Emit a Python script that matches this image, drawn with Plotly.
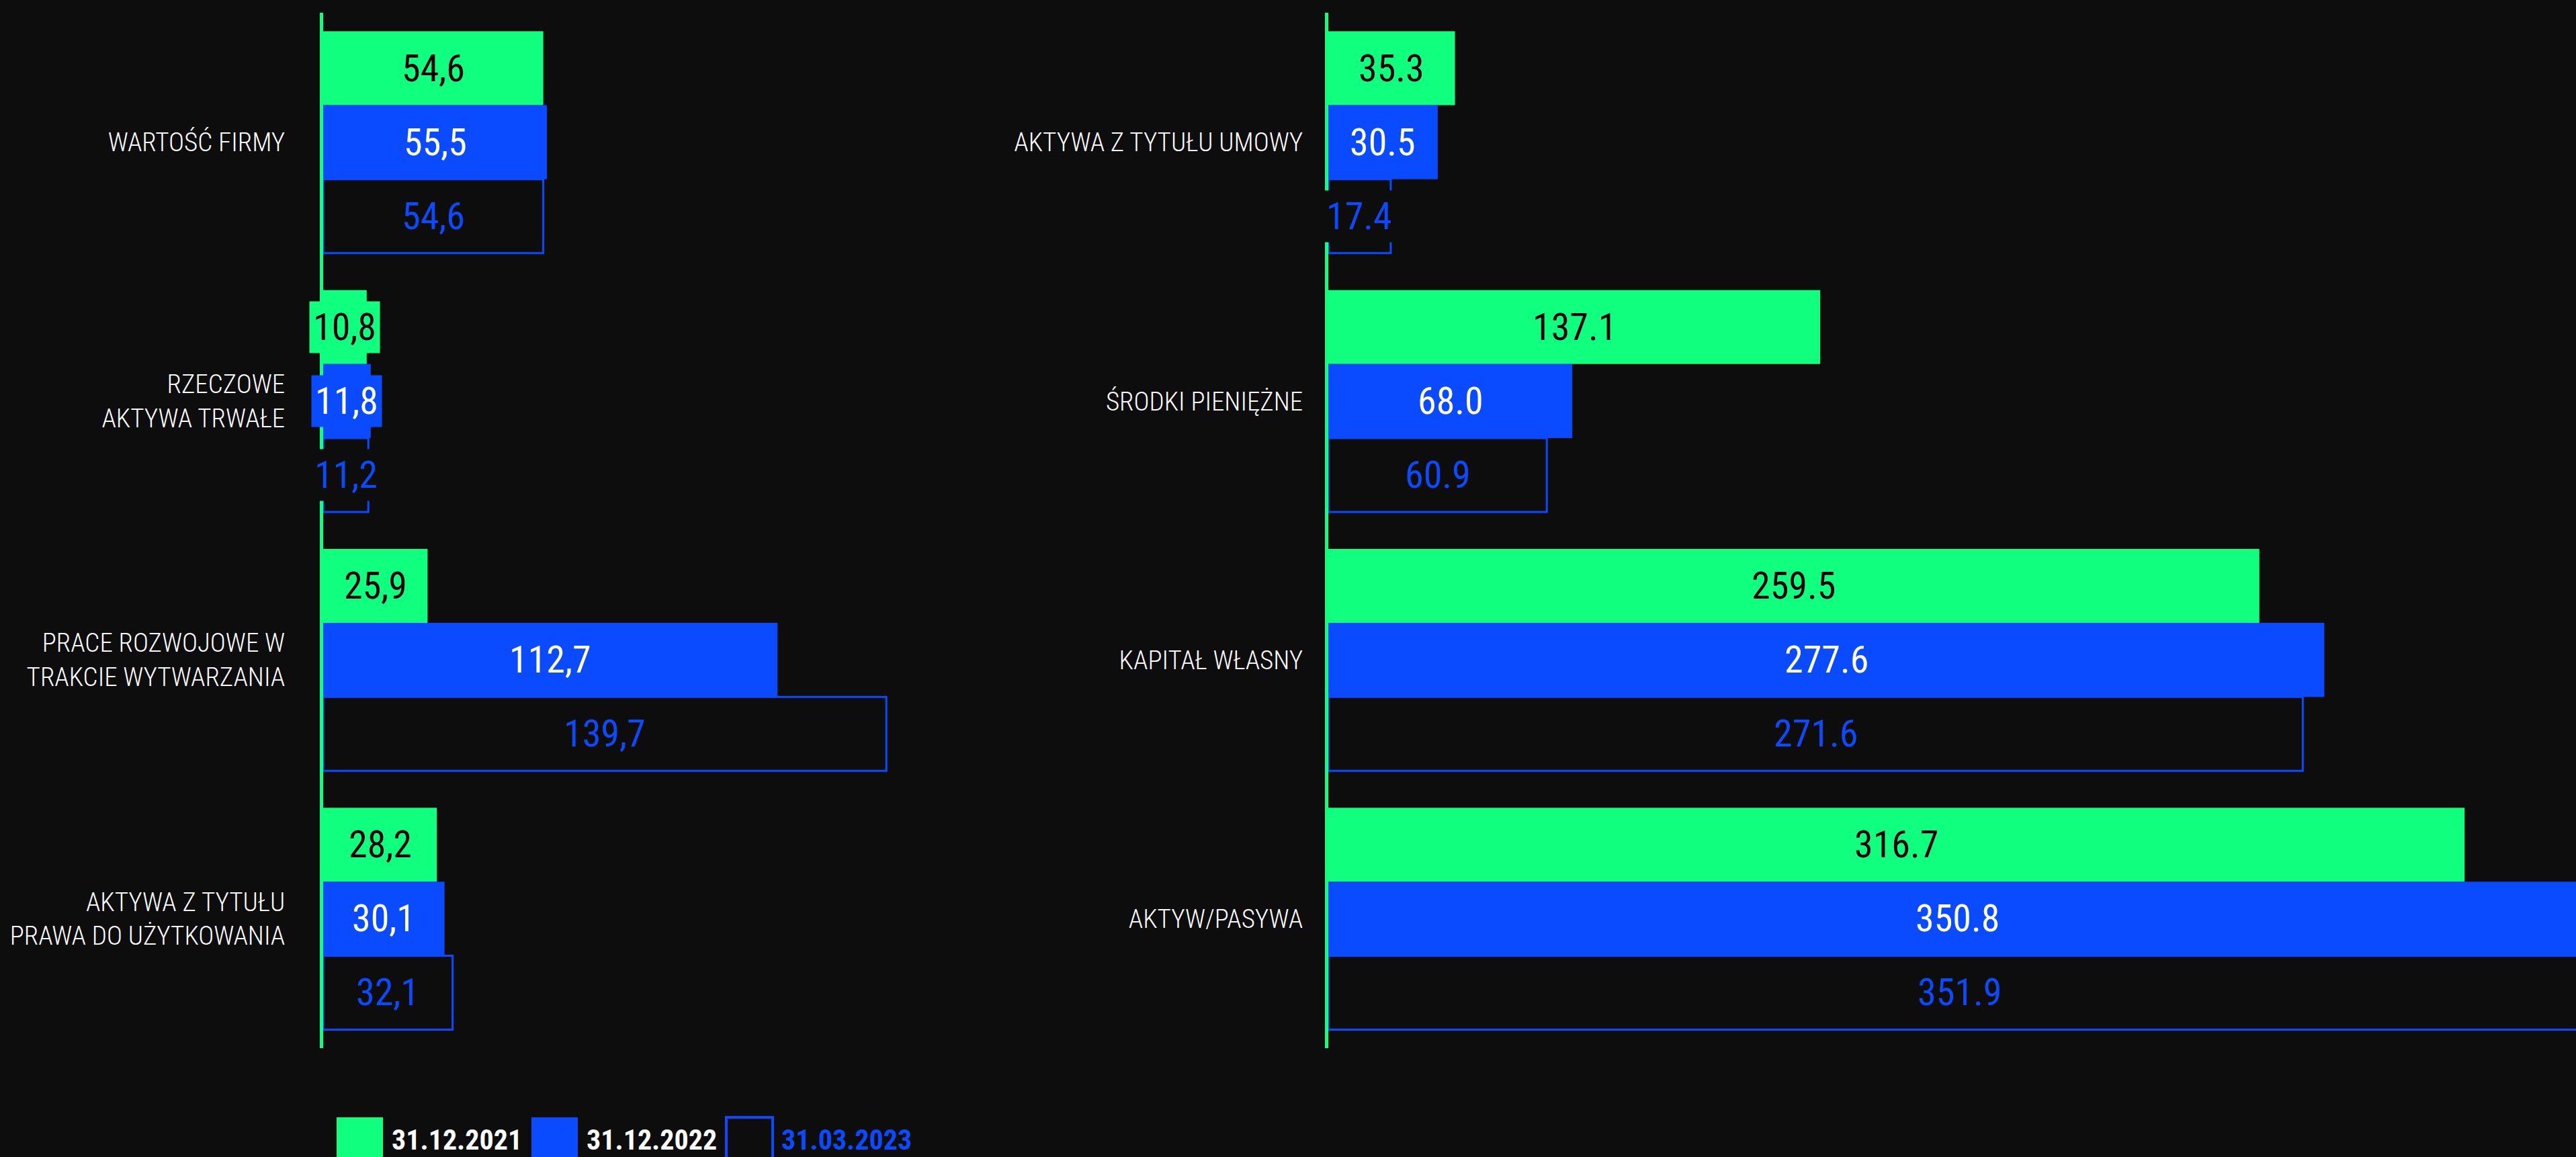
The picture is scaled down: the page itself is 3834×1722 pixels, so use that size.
import plotly.graph_objects as go

# ---------------- data ----------------
series_names = ["31.12.2021", "31.12.2022", "31.03.2023"]

left_categories = [
    "WARTOŚĆ FIRMY",
    "RZECZOWE<br>AKTYWA TRWAŁE",
    "PRACE ROZWOJOWE W<br>TRAKCIE WYTWARZANIA",
    "AKTYWA Z TYTUŁU<br>PRAWA DO UŻYTKOWANIA",
]
left_2021 = [54.6, 10.8, 25.9, 28.2]
left_2022 = [55.5, 11.8, 112.7, 30.1]
left_2023q1 = [54.6, 11.2, 139.7, 32.1]

right_categories = [
    "AKTYWA Z TYTUŁU UMOWY",
    "ŚRODKI PIENIĘŻNE",
    "KAPITAŁ WŁASNY",
    "AKTYW/PASYWA",
]
right_2021 = [35.3, 137.1, 259.5, 316.7]
right_2022 = [30.5, 68.0, 277.6, 350.8]
right_2023q1 = [17.4, 60.9, 271.6, 351.9]

# ---------------- style ----------------
W, H = 3834, 1722
BG = "#0d0d0d"
GREEN = "#10ff7f"
BLUE = "#0a4bff"
FONT = "Roboto Condensed, Liberation Sans Narrow, DejaVu Sans Condensed, sans-serif"

M_T, M_B = 19, 162
PLOT_H = H - M_T - M_B
BARGAP = 0.143
N_CAT = 4
BAR_PX = PLOT_H / N_CAT * (1 - BARGAP) / 3

LEFT_X0, LEFT_RANGE = 481, 150.0
LEFT_PX_PER_UNIT = 6.0
RIGHT_X0, RIGHT_PX_PER_UNIT = 1977, 5.34

fill_colors = [GREEN, BLUE, BG]
line_colors = [GREEN, BLUE, BLUE]
line_widths = [0, 0, 3]
text_colors = ["#000000", "#ffffff", BLUE]

fig = go.Figure()

panels = [
    ("x", "y", left_categories, [left_2021, left_2022, left_2023q1], ","),
    ("x2", "y2", right_categories, [right_2021, right_2022, right_2023q1], "."),
]

annotations = []
for xa, ya, cats, series, dec in panels:
    for i, vals in enumerate(series):
        fig.add_trace(go.Bar(
            orientation="h", x=vals, y=cats, name=series_names[i],
            xaxis=xa, yaxis=ya,
            marker=dict(color=fill_colors[i],
                        line=dict(color=line_colors[i], width=line_widths[i])),
            showlegend=False, hoverinfo="skip",
        ))
        for v, c in zip(vals, cats):
            annotations.append(dict(
                x=v / 2, y=c, xref=xa, yref=ya, showarrow=False,
                text=f"{v:.1f}".replace(".", dec),
                font=dict(family=FONT, size=56, color=text_colors[i]),
                bgcolor=fill_colors[i], borderpad=5,
                yshift=(1 - i) * BAR_PX,
            ))

# custom legend
shapes = []
LEG_X0, LEG_PITCH, LEG_SQ = 501, 290, 69
LEG_TOP = 1663
def py(Y):
    return (H - M_B - Y) / PLOT_H
for i, name in enumerate(series_names):
    x0 = LEG_X0 + i * LEG_PITCH
    shapes.append(dict(
        type="rect", xref="paper", yref="paper",
        x0=x0 / W, x1=(x0 + LEG_SQ) / W, y0=py(LEG_TOP + LEG_SQ), y1=py(LEG_TOP),
        fillcolor=fill_colors[i], line=dict(color=line_colors[i], width=4 if i == 2 else 0),
    ))
    annotations.append(dict(
        x=(x0 + LEG_SQ + 11) / W, y=py(1696), xref="paper", yref="paper",
        xanchor="left", yanchor="middle", showarrow=False,
        text=f"<b>{name}</b>",
        font=dict(family=FONT, size=42, color="#ffffff" if i < 2 else BLUE),
    ))

right_range = (W - RIGHT_X0) / RIGHT_PX_PER_UNIT
yax_common = dict(type="category", autorange="reversed", automargin=False,
                  showline=True, linecolor=GREEN, linewidth=5, showgrid=False,
                  zeroline=False, ticks="",
                  tickfont=dict(family=FONT, size=39, weight=300, color="#ffffff"))
fig.update_layout(
    width=W, height=H,
    paper_bgcolor=BG, plot_bgcolor=BG,
    margin=dict(l=0, r=0, t=M_T, b=M_B, autoexpand=False),
    barmode="group", bargap=BARGAP, bargroupgap=0,
    xaxis=dict(domain=[LEFT_X0 / W, (LEFT_X0 + LEFT_RANGE * LEFT_PX_PER_UNIT) / W],
               range=[0, LEFT_RANGE], visible=False, fixedrange=True, automargin=False),
    xaxis2=dict(domain=[RIGHT_X0 / W, 1], range=[0, right_range], visible=False,
                fixedrange=True, automargin=False),
    yaxis=dict(anchor="x", ticklabelstandoff=44, **yax_common),
    yaxis2=dict(anchor="x2", ticklabelstandoff=25, **yax_common),
    annotations=annotations,
    shapes=shapes,
    font=dict(family=FONT, color="#ffffff"),
)

fig.write_html("out.html", config={"displayModeBar": False},
               post_script="document.body.style.margin='0';")
